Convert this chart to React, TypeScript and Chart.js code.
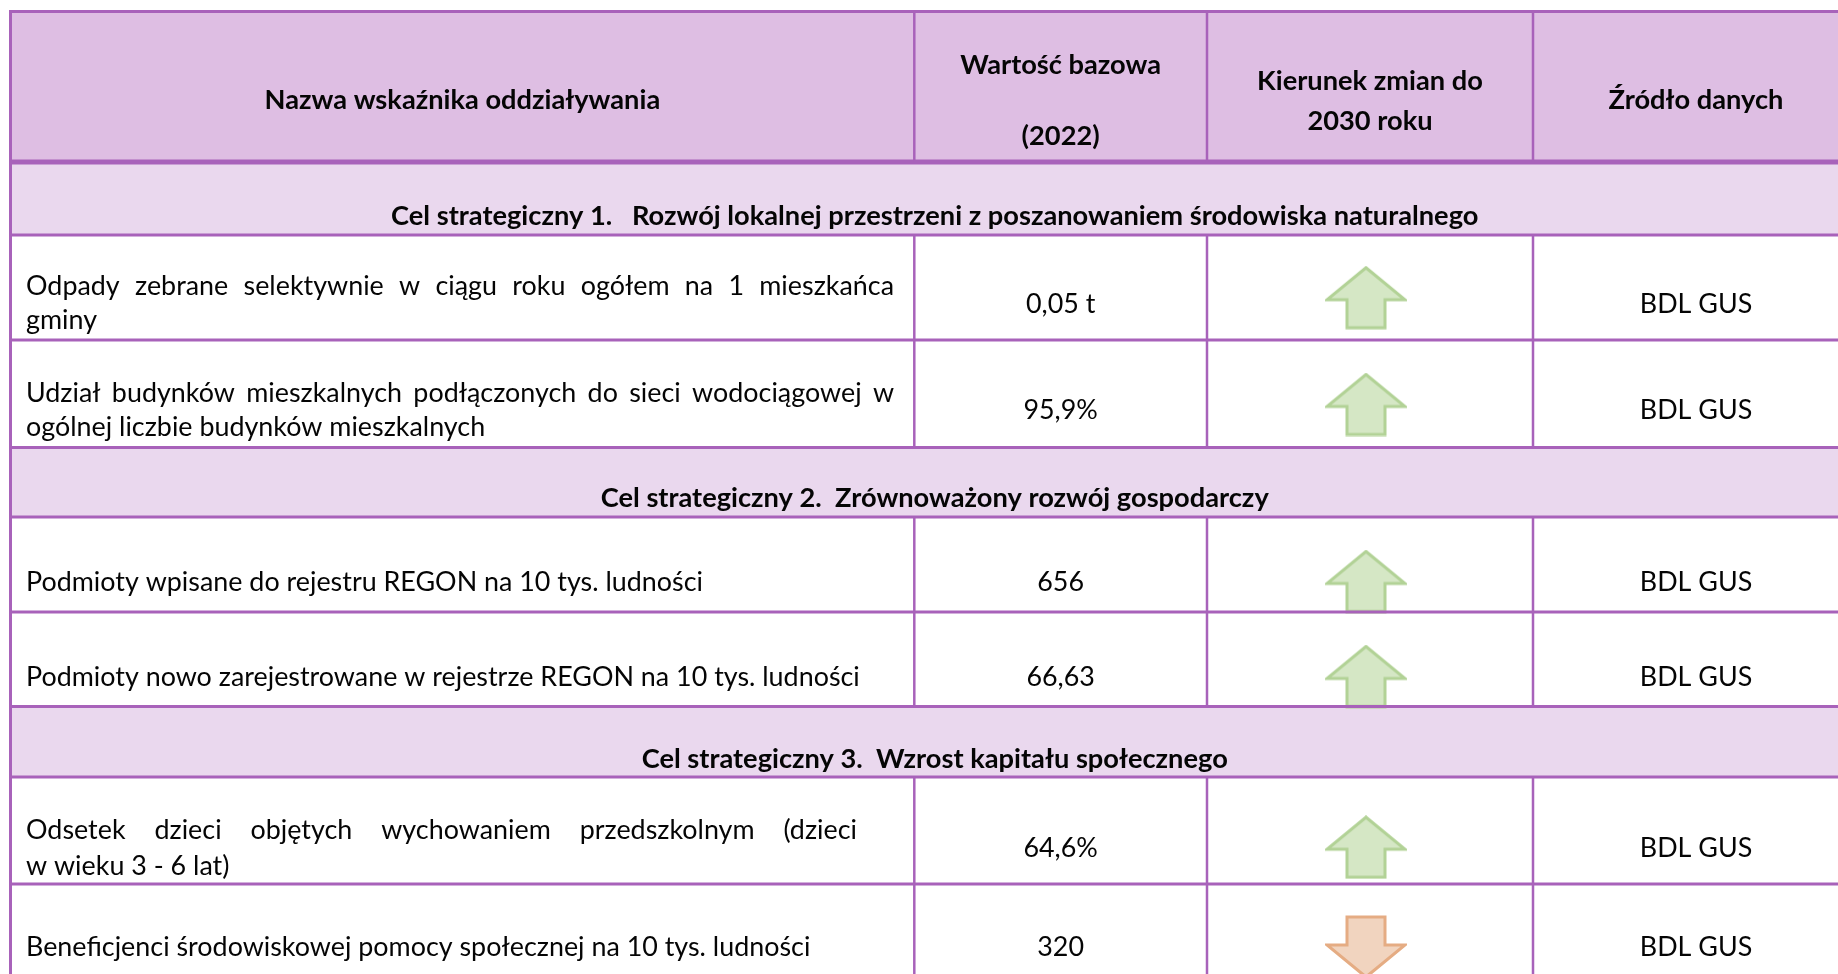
import React, { useEffect, useRef } from 'react';
import { Chart, registerables } from 'chart.js';

Chart.register(...registerables);

// ---------- DATA ----------
const HEADERS: string[][] = [
  ['Nazwa wskaźnika oddziaływania'],
  ['Wartość bazowa', '(2022)'],
  ['Kierunek zmian do', '2030 roku'],
  ['Źródło danych'],
];
const GOALS: string[] = [
  'Cel strategiczny 1.   Rozwój lokalnej przestrzeni z poszanowaniem środowiska naturalnego',
  'Cel strategiczny 2.  Zrównoważony rozwój gospodarczy',
  'Cel strategiczny 3.  Wzrost kapitału społecznego',
];
const INDICATORS: string[][] = [
  ['Odpady zebrane selektywnie w ciągu roku ogółem na 1 mieszkańca', 'gminy'],
  ['Udział budynków mieszkalnych podłączonych do sieci wodociągowej w', 'ogólnej liczbie budynków mieszkalnych'],
  ['Podmioty wpisane do rejestru REGON na 10 tys. ludności'],
  ['Podmioty nowo zarejestrowane w rejestrze REGON na 10 tys. ludności'],
  ['Odsetek dzieci objętych wychowaniem przedszkolnym (dzieci', 'w wieku 3 - 6 lat)'],
  ['Beneficjenci środowiskowej pomocy społecznej na 10 tys. ludności'],
];
const BASE_VALUES: string[] = ['0,05 t', '95,9%', '656', '66,63', '64,6%', '320'];
const DIRECTIONS: number[] = [1, 1, 1, 1, 1, -1];
const SOURCES: string[] = ['BDL GUS', 'BDL GUS', 'BDL GUS', 'BDL GUS', 'BDL GUS', 'BDL GUS'];

// ---------- LAYOUT (scale units) ----------
const COL_EDGES = [10.5, 914.3, 1207, 1533, 1859];
const TABLE_TOP = 11.5;
const HEADER_BOTTOM = 162;
const BANDS: [number, number][] = [[162, 235], [447.5, 517], [706.5, 777]];
const BAND_TEXT_Y = [216, 498.5, 759];
const ROW_LINE_Y: number[][] = [[286.5, 320.5], [393, 427], [582], [677], [830.5, 866], [947.5]];
const VALUE_Y = [304, 410.5, 582, 677, 848, 947.5];
const ARROW_Y = [297.7, 404.5, 581.5, 676.5, 847.2, 947];
const JUSTIFY_RIGHT = [894, 894, 0, 0, 857, 0];
const TEXT_LEFT = 26;
const HEADER_LINE_Y: number[][] = [[100], [65, 136.5], [81.5, 121.5], [100]];
const H_LINES: [number, number][] = [
  [11.5, 3], [162, 5], [235, 3], [340, 3], [447.5, 3], [517, 3], [612, 3], [706.5, 3], [777, 3], [884, 3],
];
const V_SEGMENTS: [number, number][] = [[11.5, 162], [235, 447.5], [517, 706.5], [777, 1000]];

// ---------- STYLE ----------
const FONT_FAMILY = 'Lato, "Open Sans", sans-serif';
const FONT_SIZE = 27;
const TEXT_COLOR = '#050505';
const HEADER_FILL = '#DEBEE3';
const BAND_FILL = '#EAD8EE';
const BORDER = '#A862BA';
const REF_REG = 'Podmioty wpisane do rejestru REGON na 10 tys. ludności';
const REF_REG_W = 677;
const REF_BOLD = 'Cel strategiczny 2.  Zrównoważony rozwój gospodarczy';
const REF_BOLD_W = 668;

function makeArrow(up: boolean, fill: string, stroke: string): HTMLCanvasElement {
  const c = document.createElement('canvas');
  c.width = 82;
  c.height = 64;
  const g = c.getContext('2d')!;
  const pts = up
    ? [[41, 2], [80, 34], [60, 34], [60, 62], [22, 62], [22, 34], [2, 34]]
    : [[41, 62], [80, 30], [60, 30], [60, 2], [22, 2], [22, 30], [2, 30]];
  g.beginPath();
  pts.forEach(([x, y], i) => (i === 0 ? g.moveTo(x, y) : g.lineTo(x, y)));
  g.closePath();
  g.fillStyle = fill;
  g.fill();
  g.lineWidth = 3;
  g.strokeStyle = stroke;
  g.lineJoin = 'miter';
  g.stroke();
  return c;
}

const tablePlugin = {
  id: 'tableDraw',
  beforeDatasetsDraw(chart: any) {
    const ctx: CanvasRenderingContext2D = chart.ctx;
    const xs = chart.scales.x;
    const ys = chart.scales.y;
    const X = (v: number) => xs.getPixelForValue(v);
    const Y = (v: number) => ys.getPixelForValue(v);
    const left = X(COL_EDGES[0]);
    const right = X(COL_EDGES[COL_EDGES.length - 1]);

    ctx.save();
    ctx.fillStyle = '#ffffff';
    ctx.fillRect(0, 0, chart.width, chart.height);
    ctx.fillStyle = HEADER_FILL;
    ctx.fillRect(left, Y(TABLE_TOP), right - left, Y(HEADER_BOTTOM) - Y(TABLE_TOP));
    ctx.fillStyle = BAND_FILL;
    BANDS.forEach(([a, b]) => ctx.fillRect(left, Y(a), right - left, Y(b) - Y(a)));

    const regFont = `${FONT_SIZE}px ${FONT_FAMILY}`;
    const boldFont = `bold ${FONT_SIZE}px ${FONT_FAMILY}`;
    ctx.font = regFont;
    const sxReg = REF_REG_W / ctx.measureText(REF_REG).width;
    ctx.font = boldFont;
    const sxBold = REF_BOLD_W / ctx.measureText(REF_BOLD).width;

    ctx.fillStyle = TEXT_COLOR;
    ctx.textBaseline = 'middle';

    const drawText = (t: string, x: number, y: number, align: CanvasTextAlign, sx: number) => {
      ctx.save();
      ctx.translate(x, y);
      ctx.scale(sx, 1);
      ctx.textAlign = align;
      ctx.fillText(t, 0, 0);
      ctx.restore();
    };
    const colCenter = (i: number) => (X(COL_EDGES[i]) + X(COL_EDGES[i + 1])) / 2;

    ctx.font = boldFont;
    HEADERS.forEach((lines, c) => {
      lines.forEach((t, k) => drawText(t, colCenter(c), Y(HEADER_LINE_Y[c][k]), 'center', sxBold));
    });
    GOALS.forEach((g, i) => drawText(g, (left + right) / 2, Y(BAND_TEXT_Y[i]), 'center', sxBold));

    ctx.font = regFont;
    INDICATORS.forEach((lines, r) => {
      lines.forEach((line, k) => {
        const y = Y(ROW_LINE_Y[r][k]);
        const justify = JUSTIFY_RIGHT[r] > 0 && k < lines.length - 1;
        if (!justify) {
          drawText(line, X(TEXT_LEFT), y, 'left', sxReg);
        } else {
          const words = line.split(' ');
          const widths = words.map((w) => ctx.measureText(w).width * sxReg);
          const total = widths.reduce((a, b) => a + b, 0);
          const gap = (X(JUSTIFY_RIGHT[r]) - X(TEXT_LEFT) - total) / (words.length - 1);
          let x = X(TEXT_LEFT);
          words.forEach((w, i) => {
            drawText(w, x, y, 'left', sxReg);
            x += widths[i] + gap;
          });
        }
      });
      drawText(BASE_VALUES[r], colCenter(1), Y(VALUE_Y[r]), 'center', sxReg);
      drawText(SOURCES[r], colCenter(3), Y(VALUE_Y[r]), 'center', sxReg);
    });
    ctx.restore();
  },
  afterDatasetsDraw(chart: any) {
    const ctx: CanvasRenderingContext2D = chart.ctx;
    const xs = chart.scales.x;
    const ys = chart.scales.y;
    const X = (v: number) => xs.getPixelForValue(v);
    const Y = (v: number) => ys.getPixelForValue(v);
    const left = X(COL_EDGES[0]);
    const right = X(COL_EDGES[COL_EDGES.length - 1]);
    ctx.save();
    ctx.fillStyle = BORDER;
    H_LINES.forEach(([y, t]) => ctx.fillRect(left - 1.5, Y(y) - t / 2, right - left + 3, t));
    ctx.fillRect(left - 1.5, Y(TABLE_TOP) - 1.5, 3, Y(1000) - Y(TABLE_TOP));
    ctx.fillRect(right - 1.5, Y(TABLE_TOP) - 1.5, 3, Y(1000) - Y(TABLE_TOP));
    for (let c = 1; c < COL_EDGES.length - 1; c++) {
      V_SEGMENTS.forEach(([a, b]) => ctx.fillRect(X(COL_EDGES[c]) - 1.25, Y(a), 2.5, Y(b) - Y(a)));
    }
    ctx.restore();
  },
};

export default function App() {
  const ref = useRef<HTMLCanvasElement>(null);
  useEffect(() => {
    if (!ref.current) return;
    const up = makeArrow(true, '#D5E7C5', '#B2D296');
    const down = makeArrow(false, '#F1D4BF', '#E5AC83');
    const arrowX = (COL_EDGES[2] + COL_EDGES[3]) / 2 - 4;
    const chart = new Chart(ref.current, {
      type: 'scatter',
      data: {
        datasets: [
          {
            label: 'Kierunek zmian',
            data: DIRECTIONS.map((_, i) => ({ x: arrowX, y: ARROW_Y[i] })),
            pointStyle: DIRECTIONS.map((d) => (d > 0 ? up : down)) as any,
            pointRadius: 30,
            pointHoverRadius: 30,
            clip: false as any,
          },
        ],
      },
      options: {
        animation: false,
        responsive: false,
        events: [],
        layout: { padding: 0, autoPadding: false },
        plugins: { legend: { display: false }, tooltip: { enabled: false } },
        scales: {
          x: { type: 'linear', min: 0, max: 1838, display: false },
          y: { type: 'linear', min: 0, max: 974, reverse: true, display: false },
        },
      },
      plugins: [tablePlugin],
    });
    return () => chart.destroy();
  }, []);
  return (
    <canvas
      ref={ref}
      width={1838}
      height={974}
      style={{ position: 'fixed', left: 0, top: 0, width: 1838, height: 974 }}
    />
  );
}
